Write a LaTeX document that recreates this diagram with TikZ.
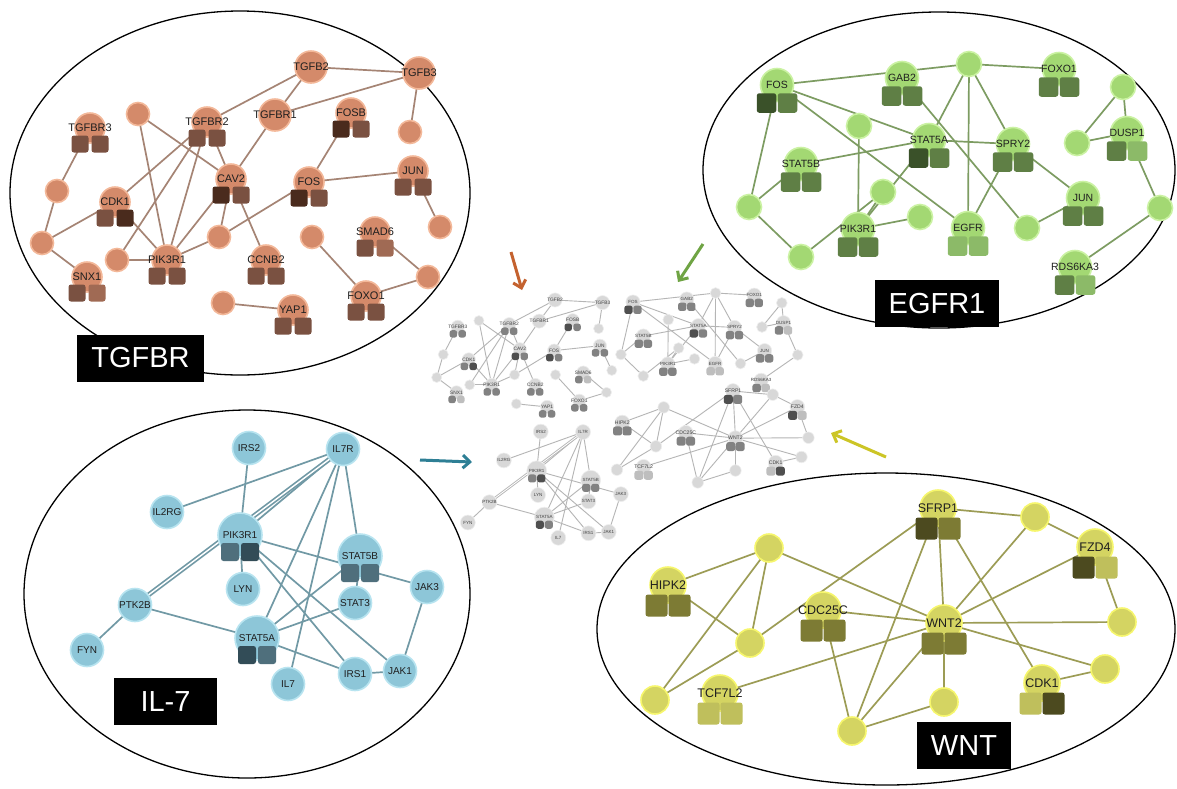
\documentclass[tikz,border=0pt]{standalone}
\usepackage{fontspec}
\setmainfont{Liberation Sans}
\usetikzlibrary{backgrounds,arrows.meta}

% palettes: fill, ring, edge, box shades
\definecolor{tgFill}{HTML}{D48A6A}\definecolor{tgRing}{HTML}{F3B899}\definecolor{tgEdge}{HTML}{A58474}
\definecolor{tgDark}{HTML}{4A2B1D}\definecolor{tgMid}{HTML}{7A5141}\definecolor{tgLight}{HTML}{A06A54}
\definecolor{egFill}{HTML}{A3D873}\definecolor{egRing}{HTML}{CBF2A3}\definecolor{egEdge}{HTML}{7D9C62}
\definecolor{egDark}{HTML}{3A5129}\definecolor{egMid}{HTML}{5F7F45}\definecolor{egLight}{HTML}{8CBA68}
\definecolor{ilFill}{HTML}{8DC6D8}\definecolor{ilRing}{HTML}{B8E4F0}\definecolor{ilEdge}{HTML}{7199A5}
\definecolor{ilDark}{HTML}{324C57}\definecolor{ilMid}{HTML}{4F6F7C}\definecolor{ilLight}{HTML}{6F909C}
\definecolor{wnFill}{HTML}{D4D462}\definecolor{wnRing}{HTML}{F6F66C}\definecolor{wnEdge}{HTML}{9C9C55}
\definecolor{wnDark}{HTML}{4C4A1F}\definecolor{wnMid}{HTML}{7D7B34}\definecolor{wnLight}{HTML}{BFBF5C}
\definecolor{cFill}{HTML}{D8D8D8}\definecolor{cRing}{HTML}{EEEEEE}\definecolor{cEdge}{HTML}{B5B5B5}
\definecolor{cDark}{HTML}{4F4F4F}\definecolor{cMid}{HTML}{828282}\definecolor{cLight}{HTML}{BEBEBE}
\definecolor{arBrown}{HTML}{C4622F}\definecolor{arGreen}{HTML}{6FA444}
\definecolor{arBlue}{HTML}{2E7F95}\definecolor{arYellow}{HTML}{CCC526}

\newcommand\usepalette[1]{%
  \colorlet{nfill}{#1Fill}\colorlet{nring}{#1Ring}\colorlet{nedge}{#1Edge}%
  \colorlet{ndark}{#1Dark}\colorlet{nmid}{#1Mid}\colorlet{nlight}{#1Light}}

% gene: circle, two shaded boxes, name
\newcommand\genenode[6]{%
  \node[nc=\gd] (#1) at (#2,#3) {};
  \path (#1.center) ++(-\sqdx,\sqdy) node[gbox, fill=n#5] (#1-l) {};
  \path (#1.center) ++(\sqdx,\sqdy) node[gbox, fill=n#6] (#1-r) {};
  \node[glabel] (#1-t) at (#1.center) {#4};}
\newcommand\plainnode[3]{\node[nc=\pd] (#1) at (#2,#3) {};}
\newcommand\labnode[4]{%
  \node[nc=\ld] (#1) at (#2,#3) {};
  \node[glabel] (#1-t) at (#1.center) {#4};}
\newcommand\netlink[2]{\draw[lnk] (#1.center) -- (#2.center);}

\newcommand\tgfbrnet{%
  \def\gd{30}\def\pd{23}\def\ld{32}\def\sqs{17}\def\sqdx{10}\def\sqdy{16}\def\lfs{11}%
  \genenode{tgfbr3}{90}{128}{TGFBR3}{mid}{mid}
  \plainnode{p1}{138}{114}
  \genenode{tgfbr2}{207}{122}{TGFBR2}{mid}{mid}
  \plainnode{p2}{57}{191}
  \genenode{cdk1}{115}{202}{CDK1}{mid}{dark}
  \plainnode{p3}{42}{243}
  \genenode{snx1}{87}{277}{SNX1}{mid}{light}
  \plainnode{p4}{117}{260}
  \genenode{pik3r1}{167}{260}{PIK3R1}{mid}{mid}
  \genenode{cav2}{231}{179}{CAV2}{dark}{mid}
  \plainnode{p5}{219}{237}
  \genenode{ccnb2}{266}{260}{CCNB2}{mid}{mid}
  \labnode{tgfbr1}{275}{115}{TGFBR1}
  \labnode{tgfb2}{311}{67}{TGFB2}
  \labnode{tgfb3}{419}{73}{TGFB3}
  \genenode{fosb}{351}{113}{FOSB}{dark}{mid}
  \plainnode{p6}{410}{132}
  \genenode{fos}{309}{182}{FOS}{dark}{mid}
  \genenode{jun}{413}{171}{JUN}{mid}{mid}
  \plainnode{p7}{440}{227}
  \genenode{smad6}{375}{232}{SMAD6}{mid}{light}
  \plainnode{p8}{312}{237}
  \plainnode{p9}{428}{277}
  \genenode{foxo1}{366}{296}{FOXO1}{mid}{mid}
  \plainnode{p10}{223}{303}
  \genenode{yap1}{293}{310}{YAP1}{mid}{mid}
  \begin{scope}[on background layer]
    \netlink{tgfbr3}{p2}\netlink{p2}{p3}\netlink{p3}{cdk1}\netlink{p3}{snx1}
    \netlink{cdk1}{pik3r1}\netlink{p4}{pik3r1}\netlink{p4}{tgfbr2}
    \netlink{p1}{pik3r1}\netlink{p1}{cav2}\netlink{tgfbr2}{cdk1}
    \netlink{tgfbr2}{pik3r1}\netlink{tgfbr2}{cav2}\netlink{tgfbr2}{tgfb2}
    \netlink{tgfb2}{tgfbr1}\netlink{tgfb2}{tgfb3}\netlink{tgfbr1}{tgfb3}
    \netlink{tgfbr1}{cav2}\netlink{tgfb3}{p6}\netlink{fosb}{fos}\netlink{fos}{jun}
    \netlink{jun}{p7}\netlink{fos}{p5}\netlink{pik3r1}{p5}\netlink{cav2}{p5}
    \netlink{cav2}{ccnb2}\netlink{pik3r1}{cav2}\netlink{p8}{foxo1}
    \netlink{smad6}{p9}\netlink{foxo1}{p9}\netlink{p10}{yap1}
  \end{scope}}

\newcommand\egfrnet{%
  \def\gd{33}\def\pd{25}\def\ld{33}\def\sqs{19.5}\def\sqdx{10.5}\def\sqdy{18}\def\lfs{10.5}%
  \genenode{fos}{777}{85}{FOS}{dark}{mid}
  \genenode{gab2}{902}{78}{GAB2}{mid}{mid}
  \plainnode{p1}{859}{126}
  \genenode{stat5a}{929}{140}{STAT5A}{dark}{mid}
  \genenode{stat5b}{801}{164}{STAT5B}{mid}{mid}
  \plainnode{p2}{883}{192}
  \plainnode{p3}{749}{207}
  \plainnode{p4}{920}{217}
  \genenode{pik3r1}{858}{229}{PIK3R1}{mid}{mid}
  \plainnode{p5}{801}{257}
  \plainnode{p6}{969}{64}
  \genenode{foxo1}{1059}{69}{FOXO1}{mid}{mid}
  \plainnode{p7}{1123}{87}
  \genenode{dusp1}{1127}{133}{DUSP1}{mid}{light}
  \plainnode{p8}{1077}{143}
  \genenode{spry2}{1013}{144}{SPRY2}{mid}{mid}
  \genenode{jun}{1083}{198}{JUN}{mid}{mid}
  \plainnode{p9}{1160}{208}
  \genenode{egfr}{968}{228}{EGFR}{light}{light}
  \plainnode{p10}{1027}{228}
  \genenode{rds6ka3}{1075}{267}{RDS6KA3}{mid}{light}
  \begin{scope}[on background layer]
    \netlink{fos}{p6}\netlink{p6}{foxo1}\netlink{fos}{stat5a}\netlink{fos}{p3}
    \netlink{fos}{egfr}\netlink{p3}{stat5b}\netlink{p3}{p5}\netlink{p5}{p2}
    \netlink{stat5b}{stat5a}\netlink{p1}{pik3r1}\netlink{p2}{pik3r1}
    \netlink{stat5a}{pik3r1}\netlink{pik3r1}{p4}\netlink{p6}{stat5a}
    \netlink{p6}{egfr}\netlink{p6}{spry2}\netlink{gab2}{p10}\netlink{stat5a}{spry2}
    \netlink{spry2}{egfr}\netlink{spry2}{jun}\netlink{jun}{p10}\netlink{p7}{p8}
    \netlink{p7}{dusp1}\netlink{p8}{dusp1}\netlink{dusp1}{p9}\netlink{p9}{rds6ka3}
  \end{scope}}

\newcommand\ilnet{%
  \def\gd{44}\def\pd{33}\def\ld{33}\def\sqs{18}\def\sqdx{10}\def\sqdy{17}\def\lfs{10}%
  \labnode{irs2}{249}{448}{IRS2}
  \labnode{il7r}{343}{449}{IL7R}
  \labnode{il2rg}{167}{512}{IL2RG}
  \genenode{pik3r1}{240}{535}{PIK3R1}{mid}{dark}
  \genenode{stat5b}{360}{556}{STAT5B}{mid}{mid}
  \labnode{lyn}{243}{589}{LYN}
  \labnode{jak3}{427}{587}{JAK3}
  \labnode{stat3}{355}{603}{STAT3}
  \labnode{ptk2b}{135}{605}{PTK2B}
  \labnode{fyn}{87}{650}{FYN}
  \genenode{stat5a}{257}{638}{STAT5A}{dark}{mid}
  \labnode{il7}{288}{684}{IL7}
  \labnode{irs1}{355}{674}{IRS1}
  \labnode{jak1}{400}{671}{JAK1}
  \begin{scope}[on background layer]
    \netlink{irs2}{pik3r1}\netlink{il7r}{il2rg}\netlink{il7r}{pik3r1}
    \draw[lnk, double=white, double distance=\dd] (il7r.center) -- (ptk2b.center);
    \netlink{il7r}{stat5b}\netlink{il7r}{stat5a}\netlink{il7r}{il7}
    \netlink{pik3r1}{lyn}\netlink{pik3r1}{jak3}\netlink{pik3r1}{irs1}\netlink{pik3r1}{jak1}
    \netlink{stat5b}{stat3}\netlink{stat5b}{stat5a}\netlink{stat3}{stat5a}
    \netlink{ptk2b}{fyn}\netlink{ptk2b}{stat5a}\netlink{stat5a}{irs1}
    \netlink{irs1}{jak1}\netlink{jak3}{jak1}
  \end{scope}}

\newcommand\wntnet{%
  \def\gd{36}\def\pd{28}\def\ld{36}\def\sqs{22}\def\sqdx{11.5}\def\sqdy{20.5}\def\lfs{12.5}%
  \plainnode{p1}{769}{548}
  \genenode{hipk2}{668}{585}{HIPK2}{mid}{mid}
  \plainnode{p2}{750}{643}
  \genenode{cdc25c}{823}{610}{CDC25C}{mid}{mid}
  \plainnode{p3}{655}{700}
  \genenode{tcf7l2}{720}{693}{TCF7L2}{light}{light}
  \plainnode{p4}{852}{731}
  \genenode{sfrp1}{938}{508}{SFRP1}{dark}{mid}
  \plainnode{p5}{1035}{517}
  \genenode{fzd4}{1095}{547}{FZD4}{dark}{light}
  \genenode{wnt2}{944}{623}{WNT2}{mid}{mid}
  \plainnode{p6}{1122}{622}
  \plainnode{p7}{1105}{669}
  \genenode{cdk1}{1042}{683}{CDK1}{light}{dark}
  \plainnode{p8}{944}{702}
  \begin{scope}[on background layer]
    \netlink{p1}{hipk2}\netlink{p1}{p2}\netlink{p1}{p3}\netlink{p1}{wnt2}
    \netlink{hipk2}{p2}\netlink{p2}{p3}\netlink{p2}{sfrp1}\netlink{tcf7l2}{wnt2}
    \netlink{cdc25c}{wnt2}\netlink{cdc25c}{p4}\netlink{p4}{wnt2}\netlink{p4}{sfrp1}
    \netlink{p4}{p8}\netlink{p8}{wnt2}\netlink{sfrp1}{wnt2}\netlink{sfrp1}{cdk1}
    \netlink{sfrp1}{p5}\netlink{p5}{fzd4}\netlink{p5}{wnt2}\netlink{fzd4}{wnt2}
    \netlink{fzd4}{p6}\netlink{wnt2}{p6}\netlink{wnt2}{p7}\netlink{p7}{cdk1}
  \end{scope}}

\newcommand\bigstyle{\def\ringw{1.6}\def\edgew{1.7}\def\dd{1.4}\colorlet{ntext}{black!88}}
\newcommand\smallstyle{\usepalette{c}\def\ringw{0.6}\def\edgew{0.9}\def\dd{0.8}\colorlet{ntext}{black!75}}

\begin{document}
\begin{tikzpicture}[x=1pt, y=-1pt,
  nc/.style={circle, fill=nfill, draw=nring, line width=\ringw, inner sep=0pt, minimum size=#1},
  gbox/.style={rectangle, rounded corners=2.5pt, inner sep=0pt, minimum size=\sqs},
  glabel/.style={inner sep=0pt, text=ntext, font=\fontsize{\lfs}{\lfs}\selectfont},
  lnk/.style={draw=nedge, line width=\edgew},
  tagbox/.style={fill=black, text=white, inner sep=0pt, minimum height=47,
    font=\fontsize{29}{29}\selectfont},
  ptr/.style={line width=3, -{Straight Barb[length=7pt,width=13pt]}},
  ring/.style={draw=black, line width=1.3}]
\useasboundingbox (0,0) rectangle (1177,788);
\begin{scope}[on background layer]
  \fill[white] (0,0) rectangle (1177,788);
\end{scope}

% module outlines
\draw[ring] (240,193) ellipse [x radius=230pt, y radius=182pt];
\draw[ring] (939,170) ellipse [x radius=236pt, y radius=158pt];
\draw[ring] (247,594) ellipse [x radius=223pt, y radius=184pt];
\draw[ring] (886,629) ellipse [x radius=289pt, y radius=156pt];

% enlarged modules
\begin{scope}[name prefix=tg-]\usepalette{tg}\bigstyle\tgfbrnet\end{scope}
\begin{scope}[name prefix=eg-]\usepalette{eg}\bigstyle\egfrnet\end{scope}
\begin{scope}[name prefix=il-]\usepalette{il}\bigstyle\ilnet\end{scope}
\begin{scope}[name prefix=wn-]\usepalette{wn}\bigstyle\wntnet\end{scope}

% merged network in the middle
\begin{scope}[shift={(418.2,270.5)}, scale=0.44, transform shape, name prefix=ctg-]
  \smallstyle\tgfbrnet\end{scope}
\begin{scope}[shift={(298.9,265.5)}, scale=0.43, transform shape, name prefix=ceg-]
  \smallstyle\egfrnet\end{scope}
\begin{scope}[shift={(428.7,230)}, scale=0.45, transform shape, name prefix=cil-]
  \smallstyle\ilnet\end{scope}
\begin{scope}[shift={(348.4,182.7)}, scale=0.41, transform shape, name prefix=cwn-]
  \smallstyle\wntnet\end{scope}

% module names
\node[tagbox, minimum width=127] (tgname) at (140.5,358) {TGFBR};
\node[tagbox, minimum width=124] (egname) at (937,303.5) {EGFR1};
\node[tagbox, minimum width=103] (ilname) at (165.5,701.5) {IL-7};
\node[tagbox, minimum width=94] (wnname) at (964,745.5) {WNT};

% pointers to the merged network
\coordinate (brA) at (511,252); \coordinate (brB) at (522,290);
\coordinate (grA) at (703,244); \coordinate (grB) at (678,282);
\coordinate (blA) at (420,460); \coordinate (blB) at (472,462);
\coordinate (yeA) at (886,457); \coordinate (yeB) at (831,433);
\draw[ptr, draw=arBrown] (brA) -- (brB);
\draw[ptr, draw=arGreen] (grA) -- (grB);
\draw[ptr, draw=arBlue] (blA) -- (blB);
\draw[ptr, draw=arYellow] (yeA) -- (yeB);
\end{tikzpicture}
\end{document}
